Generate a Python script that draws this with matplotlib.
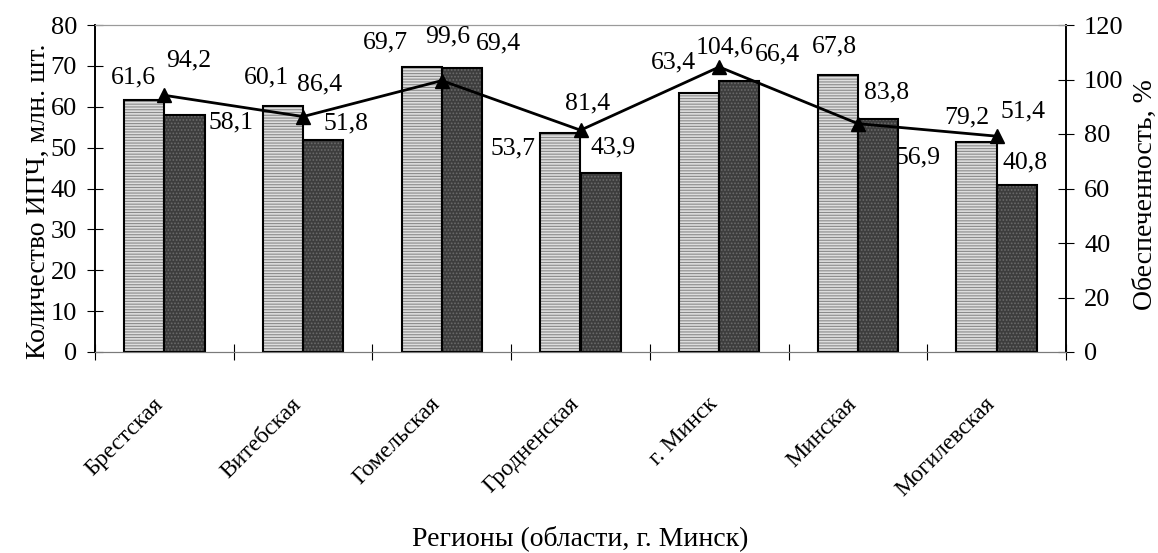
import matplotlib
matplotlib.use("Agg")
import matplotlib.pyplot as plt
import matplotlib.transforms as mtransforms
import numpy as np

regions = ["Брестская", "Витебская", "Гомельская", "Гродненская",
           "г. Минск", "Минская", "Могилевская"]
need = [61.6, 60.1, 69.7, 53.7, 63.4, 67.8, 51.4]      # light bars
have = [58.1, 51.8, 69.4, 43.9, 66.4, 56.9, 40.8]      # dark bars
supply_pct = [94.2, 86.4, 99.6, 81.4, 104.6, 83.8, 79.2]

# label offsets in pixels (dx, dy) from bar top / line point
off_need = [(-11, 23), (-17, 29), (-36, 25), (-47, -16), (-26, 30), (-3, 28), (46, 30)]
off_have = [(47, -8), (23, 17), (37, 25), (12, 25), (38, 26), (40, -38), (8, 23)]
off_pct = [(24, 35), (16, 32), (6, 44), (7, 27), (5, 20), (29, 31), (-30, 19)]

plt.rcParams['font.family'] = ['Liberation Serif', 'DejaVu Serif']
plt.rcParams['hatch.linewidth'] = 0.8

fig = plt.figure(figsize=(11.58, 5.53), dpi=100)
ax = fig.add_axes([95/1158, 1-352/553, (1066-95)/1158, (352-25)/553])
ax2 = ax.twinx()

x = np.arange(len(regions))
w = 0.29

# hatched fill first, black outline on top
plt.rcParams['hatch.color'] = '#8a8a8a'
ax.bar(x - w/2, need, w, color='#dedede', hatch='------', edgecolor='#8a8a8a', linewidth=0, zorder=2)
ax.bar(x - w/2, need, w, fill=False, edgecolor='black', linewidth=1.5, zorder=3)
ax.bar(x + w/2, have, w, color='#3d3d3d', hatch='.....', edgecolor='#6a6a6a', linewidth=0, zorder=2)
ax.bar(x + w/2, have, w, fill=False, edgecolor='black', linewidth=1.5, zorder=3)

ax2.plot(x, supply_pct, color='black', linewidth=2, marker='^', markersize=10, zorder=4)

fs = 18.5
for i in range(len(regions)):
    ax.annotate(f"{need[i]:.1f}".replace('.', ','), (x[i] - w/2, need[i]),
                xytext=off_need[i], textcoords='offset pixels',
                ha='center', va='center', fontsize=fs)
    ax.annotate(f"{have[i]:.1f}".replace('.', ','), (x[i] + w/2, have[i]),
                xytext=off_have[i], textcoords='offset pixels',
                ha='center', va='center', fontsize=fs)
    ax2.annotate(f"{supply_pct[i]:.1f}".replace('.', ','), (x[i], supply_pct[i]),
                 xytext=off_pct[i], textcoords='offset pixels',
                 ha='center', va='center', fontsize=fs)

ax.set_xlim(-0.5, len(regions) - 0.5)
ax.set_ylim(0, 80)
ax2.set_ylim(0, 120)
ax.set_yticks(np.arange(0, 81, 10))
ax2.set_yticks(np.arange(0, 121, 20))

ax.set_xticks(x)
ax.set_xticklabels(regions, rotation=45, ha='right', va='top',
                   rotation_mode='anchor', fontsize=17)
ax.tick_params(axis='x', length=0, pad=30)
shift = mtransforms.ScaledTranslation(-12/100, 0, fig.dpi_scale_trans)
for lbl in ax.get_xticklabels():
    lbl.set_transform(lbl.get_transform() + shift)
ax.set_xticks(np.arange(-0.5, len(regions)), minor=True)
ax.tick_params(axis='x', which='minor', direction='inout', length=12, width=0.8)
ax.tick_params(axis='y', direction='inout', length=12, width=0.8, labelsize=19, pad=7)
ax2.tick_params(axis='y', direction='inout', length=12, width=0.8, labelsize=19, pad=7)

for a in (ax, ax2):
    a.spines['top'].set_color('#9a9a9a')
    a.spines['bottom'].set_color('#7a7a7a')
    a.spines['left'].set_linewidth(1.2)
    a.spines['right'].set_linewidth(1.2)

ax.set_ylabel("Количество ИПЧ, млн. шт.", fontsize=20)
ax.yaxis.set_label_coords(-44/971, 0.46)
ax2.set_ylabel("Обеспеченность, %", fontsize=20)
ax2.yaxis.set_label_coords(1 + 67/971, 0.48)
fig.text(580/1158, 1-538/553, "Регионы (области, г. Минск)",
         ha='center', va='center', fontsize=20)

fig.savefig("out.png", dpi=100)
